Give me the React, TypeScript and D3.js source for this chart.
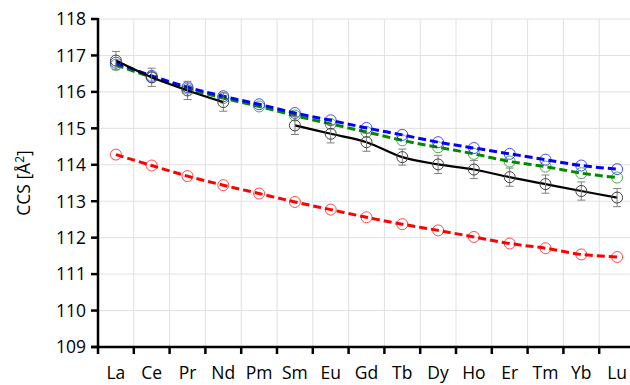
import React from "react";
import * as d3 from "d3";

const elements = ["La", "Ce", "Pr", "Nd", "Pm", "Sm", "Eu", "Gd", "Tb", "Dy", "Ho", "Er", "Tm", "Yb", "Lu"];

// experimental values (Pm not measured)
const expValues: (number | null)[] = [116.86, 116.4, 116.04, 115.72, null, 115.08, 114.85, 114.62, 114.21, 114.01, 113.87, 113.66, 113.47, 113.28, 113.1];
const expErrors = [0.25, 0.25, 0.25, 0.25, 0, 0.25, 0.25, 0.25, 0.22, 0.25, 0.25, 0.25, 0.25, 0.25, 0.25];

const blueValues = [116.8, 116.44, 116.13, 115.88, 115.66, 115.42, 115.22, 115.01, 114.82, 114.62, 114.46, 114.3, 114.14, 113.98, 113.88];
const greenValues = [116.74, 116.4, 116.09, 115.83, 115.6, 115.35, 115.12, 114.9, 114.67, 114.48, 114.3, 114.09, 113.95, 113.77, 113.65];
const redValues = [114.28, 113.98, 113.69, 113.44, 113.21, 112.98, 112.77, 112.56, 112.37, 112.2, 112.02, 111.84, 111.71, 111.54, 111.47];

const yTicks = [109, 110, 111, 112, 113, 114, 115, 116, 117, 118];

const W = 630;
const H = 385;
const left = 98;
const top = 19;
const bottom = 347;
const font = "'Open Sans', 'Liberation Sans', sans-serif";

export default function App() {
  const x = d3.scaleBand<string>().domain(elements).range([left, 635]).padding(0);
  const y = d3.scaleLinear().domain([109, 118]).range([bottom, top]);
  const cx = (i: number) => (x(elements[i]) as number) + x.bandwidth() / 2;

  const dashed = d3
    .line<number>()
    .x((_, i) => cx(i))
    .y((d) => y(d))
    .curve(d3.curveCatmullRom);

  const solid = d3
    .line<number | null>()
    .defined((d) => d != null)
    .x((_, i) => cx(i))
    .y((d) => y(d as number))
    .curve(d3.curveCatmullRom);

  const boundaries = elements.map((e) => x(e) as number).concat([635]);

  const series = [
    { values: redValues, color: "#ff0000" },
    { values: greenValues, color: "#008a00" },
    { values: blueValues, color: "#0000ff" },
  ];

  return (
    <div style={{ position: "fixed", left: 0, top: 0 }}>
      <svg width={W} height={H} style={{ display: "block", background: "#fff" }}>
        {/* grid */}
        {yTicks.map((t) => (
          <line key={"gy" + t} x1={left} x2={W} y1={y(t)} y2={y(t)} stroke="#e0e0e0" strokeWidth={1} />
        ))}
        {boundaries.slice(1).map((b, i) => (
          <line key={"gx" + i} x1={b} x2={b} y1={top} y2={bottom} stroke="#e0e0e0" strokeWidth={1} />
        ))}

        {/* dashed series */}
        {series.map((s, si) => (
          <g key={"s" + si}>
            <path d={dashed(s.values) || ""} fill="none" stroke={s.color} strokeWidth={3} strokeDasharray="8,4" />
            {s.values.map((v, i) => (
              <circle key={i} cx={cx(i)} cy={y(v)} r={5.5} fill="none" stroke={s.color} strokeOpacity={0.7} strokeWidth={1} />
            ))}
          </g>
        ))}

        {/* experimental */}
        <path d={solid(expValues) || ""} fill="none" stroke="#000" strokeWidth={2.2} />
        {expValues.map((v, i) =>
          v == null ? null : (
            <g key={"e" + i} stroke="#808080" strokeWidth={1}>
              <line x1={cx(i)} x2={cx(i)} y1={y(v - expErrors[i])} y2={y(v + expErrors[i])} />
              <line x1={cx(i) - 4} x2={cx(i) + 4} y1={y(v - expErrors[i])} y2={y(v - expErrors[i])} />
              <line x1={cx(i) - 4} x2={cx(i) + 4} y1={y(v + expErrors[i])} y2={y(v + expErrors[i])} />
              <circle cx={cx(i)} cy={y(v)} r={5.5} fill="none" stroke="#404040" />
            </g>
          )
        )}

        {/* y axis */}
        <line x1={left} x2={left} y1={top - 1} y2={bottom + 1} stroke="#000" strokeWidth={2.5} />
        {yTicks.map((t) => (
          <g key={"yt" + t}>
            <line x1={left - 7} x2={left} y1={y(t)} y2={y(t)} stroke="#000" strokeWidth={2.5} />
            <text x={left - 12} y={y(t)} dy="0.36em" textAnchor="end" fontFamily={font} fontSize={17.5} fill="#000">
              {t}
            </text>
          </g>
        ))}

        {/* x axis */}
        <line x1={left - 7} x2={W} y1={bottom} y2={bottom} stroke="#000" strokeWidth={2.5} />
        {boundaries.map((b, i) => (
          <line key={"xt" + i} x1={b} x2={b} y1={bottom} y2={bottom + 7} stroke="#000" strokeWidth={2.5} />
        ))}
        {elements.map((e, i) => (
          <text key={"xl" + e} x={cx(i)} y={379} textAnchor="middle" fontFamily={font} fontSize={17.5} fill="#000">
            {e}
          </text>
        ))}

        <text
          transform={`translate(30,${(top + bottom) / 2}) rotate(-90)`}
          textAnchor="middle"
          fontFamily={font}
          fontSize={17.5}
          fill="#000"
        >
          CCS [Å<tspan dy="-6" fontSize={12}>2</tspan>
          <tspan dy="6">]</tspan>
        </text>
      </svg>
    </div>
  );
}
